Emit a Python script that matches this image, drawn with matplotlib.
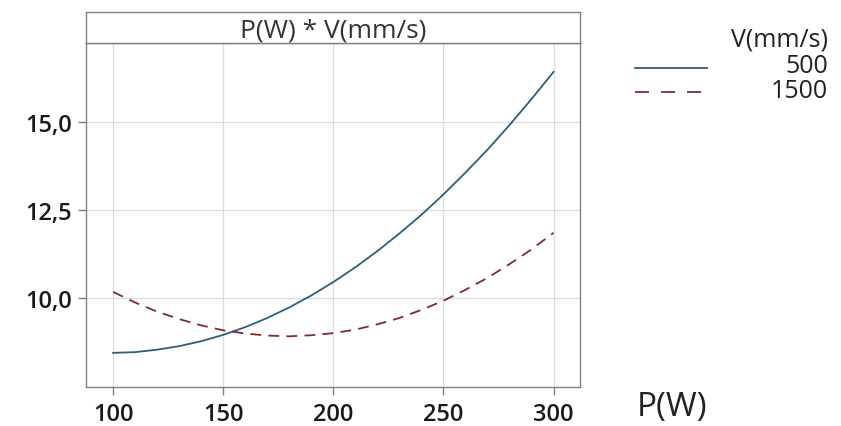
import matplotlib
matplotlib.use("Agg")
import matplotlib.pyplot as plt
from matplotlib.lines import Line2D
from matplotlib.ticker import FuncFormatter

plt.rcParams["font.family"] = ["Open Sans", "DejaVu Sans"]

# P(W) values and fitted means
power = [100, 110, 120, 130, 140, 150, 160, 170, 180, 190, 200,
         210, 220, 230, 240, 250, 260, 270, 280, 290, 300]
v500 = [8.44, 8.46, 8.53, 8.63, 8.77, 8.95, 9.17, 9.43, 9.73, 10.07, 10.45,
        10.87, 11.33, 11.83, 12.36, 12.94, 13.56, 14.21, 14.91, 15.65, 16.42]
v1500 = [10.17, 9.87, 9.61, 9.40, 9.22, 9.08, 8.99, 8.93, 8.91, 8.94, 9.00,
         9.10, 9.25, 9.43, 9.66, 9.92, 10.23, 10.57, 10.96, 11.38, 11.85]
series_labels = ["500", "1500"]
x_ticks = [100, 150, 200, 250, 300]
y_ticks = [10.0, 12.5, 15.0]

W, H = 841, 427
c500 = "#2b5f7c"
c1500 = "#7d2b33"
dash = (0, (6, 4))

fig = plt.figure(figsize=(W / 100, H / 100), dpi=100)
ax = fig.add_axes([86 / W, 1 - 388 / H, 494 / W, 344 / H])

ax.plot(power, v500, color=c500, lw=1.3)
ax.plot(power, v1500, color=c1500, lw=1.3, ls=dash)

ax.set_xlim(87.7, 312)
ax.set_ylim(7.47, 17.24)
ax.set_xticks(x_ticks)
ax.set_yticks(y_ticks)
ax.yaxis.set_major_formatter(FuncFormatter(lambda v, p: f"{v:.1f}".replace(".", ",")))
ax.grid(True, color="#dcdcdc", lw=0.9)
ax.set_axisbelow(True)

for s in ax.spines.values():
    s.set_color("#808080")
    s.set_linewidth(1.0)
ax.tick_params(colors="#808080", length=6, width=1.0, labelcolor="#1a1a1a",
               labelsize=17)
ax.tick_params(axis="x", pad=5)
ax.tick_params(axis="y", pad=4)
for lbl in ax.get_xticklabels() + ax.get_yticklabels():
    lbl.set_fontweight("semibold")

# header strip with the term name
strip = fig.add_axes([86 / W, 1 - 44 / H, 494 / W, 31 / H])
strip.set_xticks([])
strip.set_yticks([])
for s in strip.spines.values():
    s.set_color("#808080")
    s.set_linewidth(1.0)
strip.text(0.5, 0.42, "P(W) * V(mm/s)", ha="center", va="center",
           fontsize=19, color="#333333", transform=strip.transAxes)

fig.text(637 / W, 1 - 408 / H, "P(W)", fontsize=24, color="#222222",
         ha="left", va="center")

# legend drawn by hand so the labels sit right-aligned like the original
fig.text(828 / W, 1 - 40 / H, "V(mm/s)", fontsize=18, color="#222222",
         ha="right", va="center")
rows = [(series_labels[0], c500, "-", 67), (series_labels[1], c1500, (0, (7.8, 6.6)), 91)]
for label, col, style, yy in rows:
    ly = 1 - (yy + 2) / H
    fig.add_artist(Line2D([635 / W, 707 / W], [ly, ly], color=col, lw=1.3,
                          ls=style, transform=fig.transFigure))
    fig.text(828 / W, 1 - yy / H, label, fontsize=18, color="#222222",
             ha="right", va="center")

fig.savefig("out.png", dpi=100)
